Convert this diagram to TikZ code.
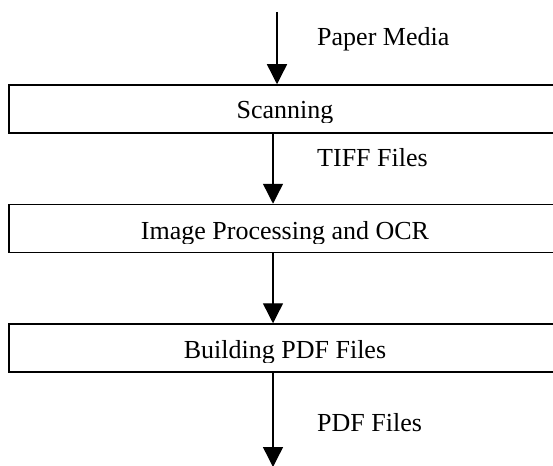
\documentclass[tikz,border=0pt]{standalone}
\usepackage{fontspec}
\setmainfont{Liberation Serif}
\usetikzlibrary{arrows.meta}
\begin{document}
\begin{tikzpicture}[x=1pt,y=-1pt,
  box/.style={draw, line width=1.5pt, rectangle, minimum width=556pt,
              minimum height=48pt, inner sep=0pt},
  flow/.style={line width=1.4pt, -{Triangle[length=20pt,width=20pt]}},
  lbl/.style={anchor=base west, inner sep=0pt},
  boxtext/.style={anchor=base, inner sep=0pt},
  font=\fontsize{26}{30}\selectfont]
% page frame: the boxes run past the right edge
\clip (0,0) rectangle (553,465);

% free ends of the first and last connectors, and the shared flow axis
\coordinate (src) at (277,12);
\coordinate (axis) at (273,0);
\coordinate (sink) at (273,467);

% process boxes
\node[box] (scan) at (287,109) {};
\node[box] (ocr)  at (287,228.5) {};
\node[box] (pdf)  at (287,348) {};

% box captions, set in text frames that cut off the descenders
\begin{scope}
  \clip (0,85) rectangle (553,123);
  \node[boxtext] (scantext) at (285,119) {Scanning};
\end{scope}
\begin{scope}
  \clip (0,205) rectangle (553,243);
  \node[boxtext] (ocrtext) at (285,239) {Image Processing and OCR};
\end{scope}
\begin{scope}
  \clip (0,324) rectangle (553,362);
  \node[boxtext] (pdftext) at (285,358) {Building PDF Files};
\end{scope}

% connectors
\draw[flow] (src) -- (scan.north -| src);
\draw[flow] (scan.south -| axis) -- (ocr.north -| axis);
\draw[flow] (ocr.south -| axis) -- (pdf.north -| axis);
\draw[flow] (pdf.south -| axis) -- (sink);

% data labels beside the connectors
\node[lbl] (paper) at (317,46)  {Paper Media};
\node[lbl] (tiff)  at (317,166) {TIFF Files};
\node[lbl] (pdfs)  at (317,431) {PDF Files};
\end{tikzpicture}
\end{document}
